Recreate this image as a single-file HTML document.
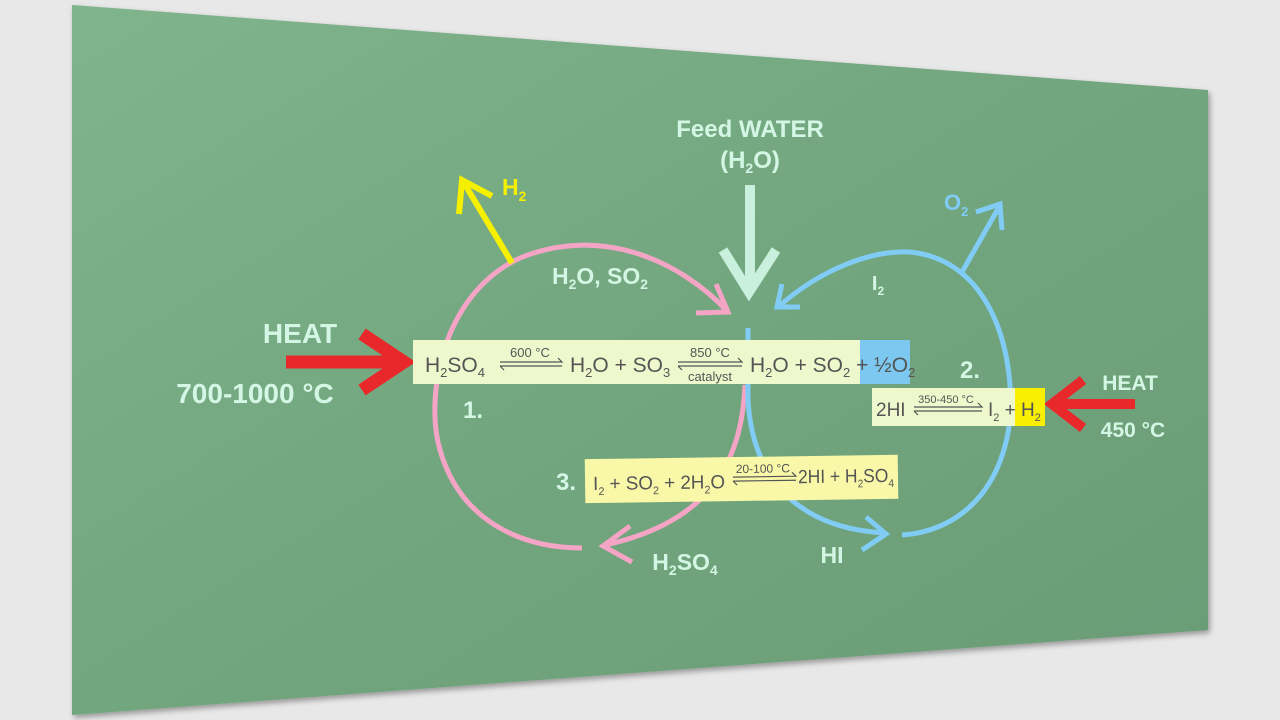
<!DOCTYPE html>
<html><head><style>
html,body{margin:0;padding:0;background:#e8e8e8;}
svg{display:block}
text{font-family:"Liberation Sans",sans-serif;}
</style></head><body>
<svg width="1280" height="720" viewBox="0 0 1280 720" xmlns="http://www.w3.org/2000/svg">
<defs>
<linearGradient id="bg" x1="0" y1="0" x2="1" y2="1">
<stop offset="0" stop-color="#80b48c"/><stop offset="0.5" stop-color="#72a67e"/><stop offset="1" stop-color="#6a9c76"/>
</linearGradient>
<filter id="sh" x="-5%" y="-5%" width="110%" height="110%"><feDropShadow dx="2" dy="3" stdDeviation="3" flood-color="#000" flood-opacity="0.35"/></filter>
</defs>
<rect width="1280" height="720" fill="#e8e8e8"/>
<polygon points="72,5 1208,90 1208,630 72,715" fill="url(#bg)" filter="url(#sh)"/>

<g fill="none" stroke-linecap="butt">
<path d="M728,312 C680,260 600,225 520,258 C440,295 425,400 440,450 C460,520 520,548 582,548" stroke="#f4a4c4" stroke-width="5"/>
<path d="M745,385 C742,450 720,520 605,545" stroke="#f4a4c4" stroke-width="5"/>
<polyline points="716,284 728,312 696,313" stroke="#f4a4c4" stroke-width="5"/>
<polyline points="630,526 603,546 632,562" stroke="#f4a4c4" stroke-width="5"/>
<path d="M778,307 C820,270 870,250 910,252 C990,260 1015,350 1010,420 C1000,500 950,532 902,535" stroke="#80ccf4" stroke-width="5"/>
<path d="M748,328 L748,400 C752,470 790,528 885,533" stroke="#80ccf4" stroke-width="5"/>
<polyline points="782,284 777,307 800,307" stroke="#80ccf4" stroke-width="5"/>
<polyline points="866,517 886,534 862,550" stroke="#80ccf4" stroke-width="5"/>
<line x1="512" y1="263" x2="464" y2="183" stroke="#f4f000" stroke-width="6"/>
<polyline points="459,214 462,180 492,196" stroke="#f4f000" stroke-width="6"/>
<line x1="962" y1="272" x2="999" y2="207" stroke="#80ccf4" stroke-width="5"/>
<polyline points="976,212 1000,204 1002,230" stroke="#80ccf4" stroke-width="5"/>
<line x1="750" y1="185" x2="750" y2="290" stroke="#c8f0dc" stroke-width="10"/>
<polyline points="723,250 749,292 776,250" stroke="#c8f0dc" stroke-width="10"/>
<line x1="286" y1="362" x2="404" y2="362" stroke="#e8282a" stroke-width="13"/>
<polyline points="362,334 404,362 362,390" stroke="#e8282a" stroke-width="13"/>
<line x1="1135" y1="404" x2="1052" y2="404" stroke="#e8282a" stroke-width="10"/>
<polyline points="1083,380 1052,404 1083,428" stroke="#e8282a" stroke-width="10"/>
</g>

<g fill="#d4f6e4" font-weight="bold" text-anchor="middle">
<text x="750" y="137" font-size="24">Feed WATER</text>
<text x="750" y="168" font-size="24">(H<tspan font-size="14" dy="5">2</tspan><tspan dy="-5">O)</tspan></text>
<text x="600" y="284" font-size="23">H<tspan font-size="14" dy="5">2</tspan><tspan dy="-5">O, SO</tspan><tspan font-size="14" dy="5">2</tspan></text>
<text x="878" y="290" font-size="20">I<tspan font-size="12" dy="5">2</tspan></text>
<text x="300" y="343" font-size="28">HEAT</text>
<text x="255" y="403" font-size="28">700-1000 °C</text>
<text x="473" y="418" font-size="24">1.</text>
<text x="970" y="378" font-size="24">2.</text>
<text x="566" y="490" font-size="24">3.</text>
<text x="1130" y="390" font-size="21">HEAT</text>
<text x="1133" y="437" font-size="21">450 °C</text>
<text x="685" y="570" font-size="23">H<tspan font-size="14" dy="5">2</tspan><tspan dy="-5">SO</tspan><tspan font-size="14" dy="5">4</tspan></text>
<text x="832" y="563" font-size="23">HI</text>
</g>
<text x="502" y="195" font-size="23" font-weight="bold" fill="#f4f000">H<tspan font-size="14" dy="6">2</tspan></text>
<text x="944" y="210" font-size="22" font-weight="bold" fill="#80ccf4">O<tspan font-size="13" dy="6">2</tspan></text>

<rect x="413" y="340" width="497" height="44" fill="#eef8cc"/>
<rect x="860" y="340" width="50" height="44" fill="#7cc8f0"/>
<g fill="#555" font-size="21">
<text x="425" y="372">H<tspan font-size="13" dy="5">2</tspan><tspan dy="-5">SO</tspan><tspan font-size="13" dy="5">4</tspan></text>
<text x="570" y="372">H<tspan font-size="13" dy="5">2</tspan><tspan dy="-5">O + SO</tspan><tspan font-size="13" dy="5">3</tspan></text>
<text x="750" y="372">H<tspan font-size="13" dy="5">2</tspan><tspan dy="-5">O + SO</tspan><tspan font-size="13" dy="5">2</tspan><tspan dy="-5"> + ½O</tspan><tspan font-size="13" dy="5">2</tspan></text>
<text x="530" y="357" font-size="13" text-anchor="middle">600 °C</text>
<text x="710" y="357" font-size="13" text-anchor="middle">850 °C</text>
<text x="710" y="381" font-family="Liberation Serif" font-size="13" text-anchor="middle">catalyst</text>
</g>
<g stroke="#555" stroke-width="1.2" fill="none">
<path d="M500,362 H562 l-4,-4"/><path d="M500,366 H562 M500,366 l4,4"/>
<path d="M678,362 H742 l-4,-4"/><path d="M678,366 H742 M678,366 l4,4"/>
</g>

<rect x="872" y="388" width="173" height="38" fill="#eef8cc"/>
<rect x="1015" y="388" width="30" height="38" fill="#f8f000"/>
<g fill="#555" font-size="19">
<text x="876" y="416">2HI</text>
<text x="988" y="416">I<tspan font-size="11" dy="5">2</tspan><tspan dy="-5"> + H</tspan><tspan font-size="11" dy="5">2</tspan></text>
<text x="946" y="403" font-size="11" text-anchor="middle">350-450 °C</text>
</g>
<g stroke="#555" stroke-width="1.2" fill="none">
<path d="M914,407 H982 l-4,-4"/><path d="M914,411 H982 M914,411 l4,4"/>
</g>

<g transform="rotate(-0.8 740 478)">
<rect x="585" y="457" width="313" height="44" fill="#f8f8a8"/>
<g fill="#555" font-size="19">
<text x="593" y="488" textLength="132" lengthAdjust="spacingAndGlyphs">I<tspan font-size="11" dy="5">2</tspan><tspan dy="-5"> + SO</tspan><tspan font-size="11" dy="5">2</tspan><tspan dy="-5"> + 2H</tspan><tspan font-size="11" dy="5">2</tspan><tspan dy="-5">O</tspan></text>
<text x="798" y="484" textLength="96" lengthAdjust="spacingAndGlyphs">2HI + H<tspan font-size="11" dy="5">2</tspan><tspan dy="-5">SO</tspan><tspan font-size="11" dy="5">4</tspan></text>
<text x="763" y="473" font-size="12" text-anchor="middle">20-100 °C</text>
</g>
<g stroke="#555" stroke-width="1.2" fill="none">
<path d="M733,477 H796 l-4,-4"/><path d="M733,481 H796 M733,481 l4,4"/>
</g>
</g>
</svg>
</body></html>
